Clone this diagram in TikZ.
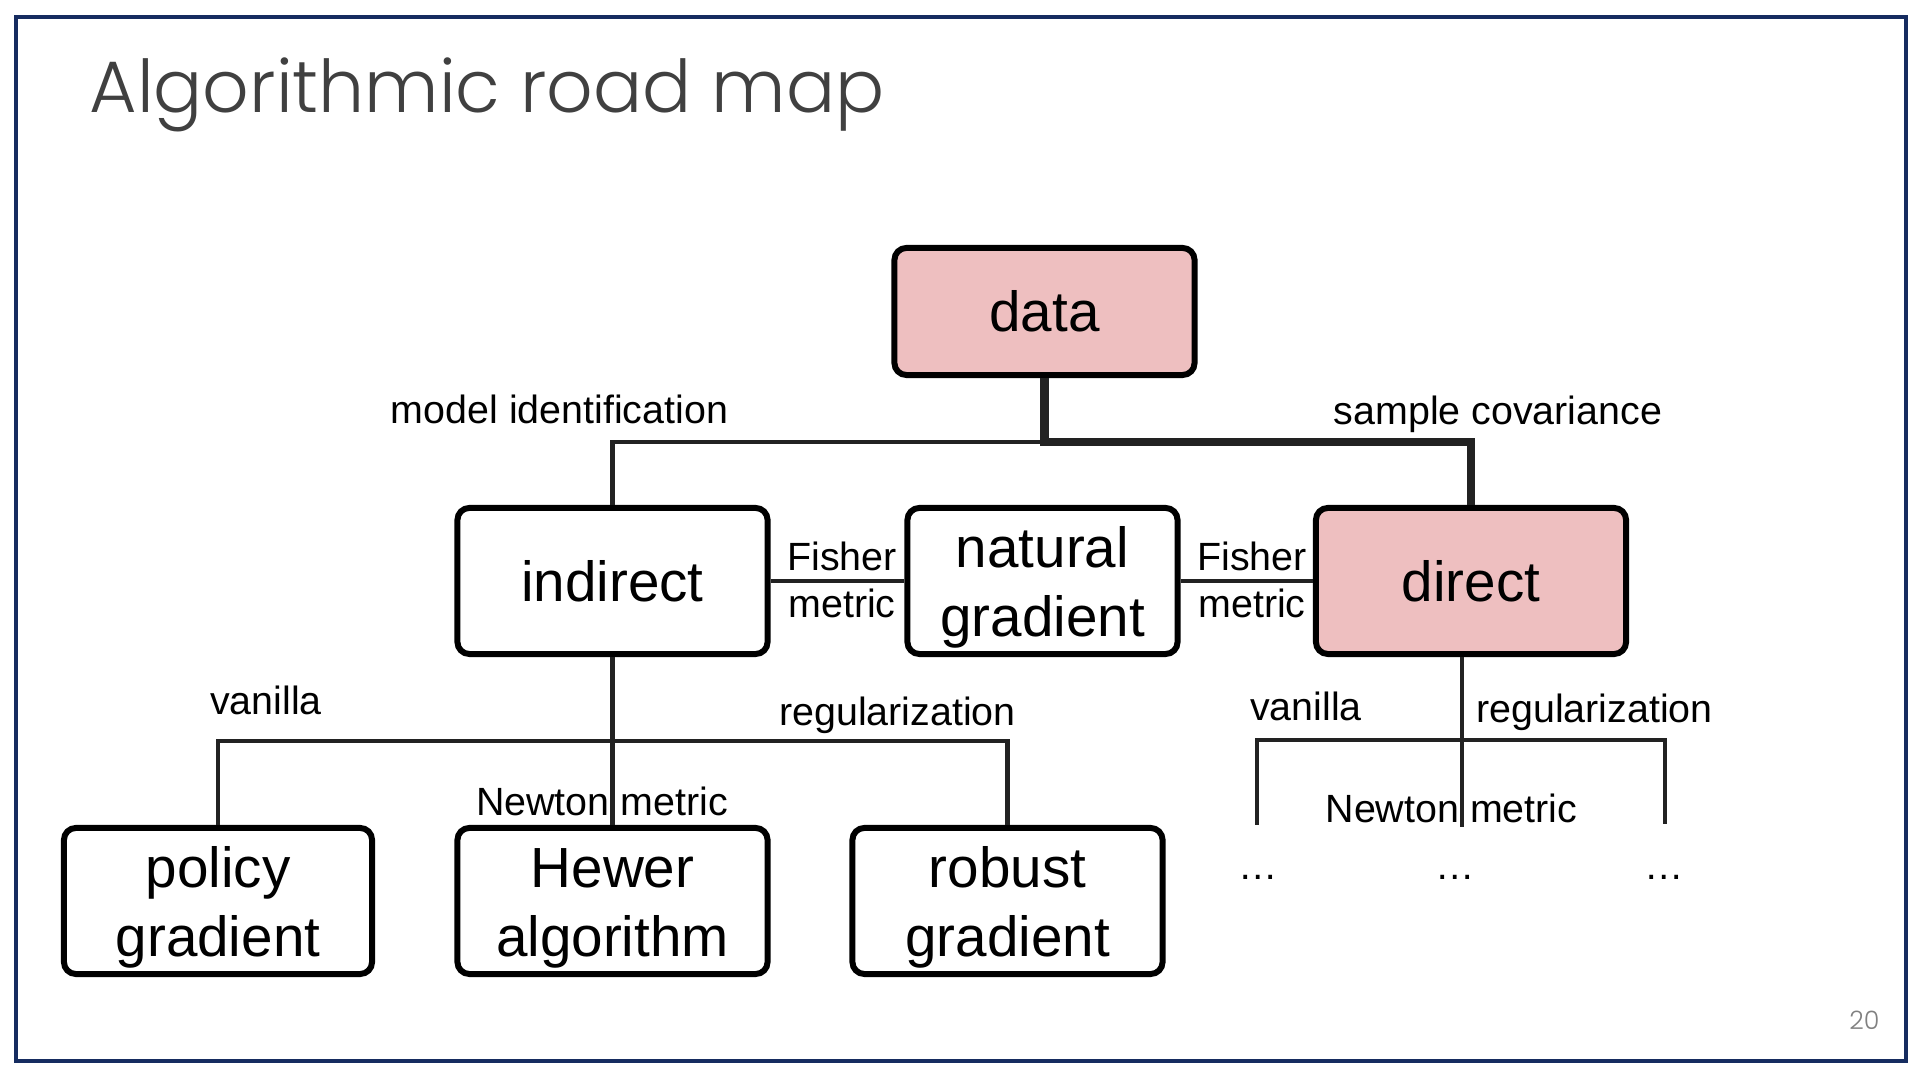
\documentclass[tikz,border=0pt]{standalone}
\usepackage{fontspec}
\setmainfont{Liberation Sans}
\newfontfamily\titlefont{Poppins Light}
\definecolor{pinkfill}{RGB}{238,191,192}
\definecolor{framecol}{RGB}{22,44,96}
\definecolor{titlegray}{RGB}{64,64,64}
\definecolor{linecol}{RGB}{34,34,34}
\newcommand\boxlines[2]{\rule{0pt}{15.2pt}#1\\#2}
\begin{document}
\begin{tikzpicture}[x=0.01cm,y=-0.01cm,
  box/.style={draw=black, line width=1.7pt, rounded corners=0.12cm, fill=white,
    align=center, inner sep=0pt, minimum height=1.46cm,
    font=\fontsize{16.1}{19.8}\selectfont},
  hl/.style={fill=pinkfill},
  lbl/.style={font=\fontsize{11.2}{13.3}\selectfont, inner sep=0pt, align=center},
  conn/.style={draw=linecol, line width=1.15pt},
  boldconn/.style={draw=linecol, line width=2.5pt},
]
\useasboundingbox (0,0) rectangle (1920,1080);
\fill[white] (0,0) rectangle (1920,1080);
\draw[framecol, line width=0.9pt] (16,17) rectangle (1906,1061);

\node[anchor=base west, inner sep=0pt, text=titlegray,
  font=\titlefont\fontsize{20.7}{24}\selectfont] (title) at (89,113) {Algorithmic road map};
\node[inner sep=0pt, text=gray, font=\titlefont\fontsize{7.2}{8}\selectfont] (pg) at (1864.5,1020.5) {20};

% boxes
\node[box, hl, minimum width=3.00cm, minimum height=1.27cm] (data) at (1044.5,311.5) {data};
\node[box, minimum width=3.10cm] (indirect) at (612.5,581) {indirect};
\node[box, minimum width=2.70cm] (natural) at (1042.5,581) {\boxlines{natural}{gradient}};
\node[box, hl, minimum width=3.10cm] (direct) at (1471,581) {direct};
\node[box, minimum width=3.08cm] (policy) at (218,901) {\boxlines{policy}{gradient}};
\node[box, minimum width=3.10cm] (hewer) at (612.5,901) {\boxlines{Hewer}{algorithm}};
\node[box, minimum width=3.10cm] (robust) at (1007.5,901) {\boxlines{robust}{gradient}};

% top connectors
\coordinate (j1) at (1044.5,442);
\draw[conn] (j1) -| (indirect.north);
\draw[boldconn] (data.south) -- (j1) -| (direct.north);

% Fisher metric
\draw[conn] (indirect) -- (natural);
\draw[conn] (natural) -- (direct);

% left subtree
\coordinate (j2) at (612.5,741);
\draw[conn] (indirect.south) -- (hewer.north);
\draw[conn] (policy.north) -- (policy.north |- j2) -- (robust.north |- j2) -- (robust.north);

% right subtree
\coordinate (j3) at (1462,740);
\coordinate (r1) at (1257,825);
\coordinate (r2) at (1462,827);
\coordinate (r3) at (1665,824);
\draw[conn] (direct.south -| j3) -- (r2);
\draw[conn] (r1) -- (r1 |- j3) -- (r3 |- j3) -- (r3);

% labels
\node[lbl, anchor=base] (lmi) at (559.5,424) {model identification};
\node[lbl, anchor=base] (lsc) at (1498,425) {sample covariance};
\node[lbl] (lf1) at (842,580) {Fisher\\metric};
\node[lbl] (lf2) at (1252,580) {Fisher\\metric};
\node[lbl, anchor=base] (lv1) at (266,715) {vanilla};
\node[lbl, anchor=base] (lr1) at (897.5,726) {regularization};
\node[lbl, anchor=base] (ln1) at (602,816) {Newton metric};
\node[lbl, anchor=base] (lv2) at (1306,721) {vanilla};
\node[lbl, anchor=base] (lr2) at (1594.5,723) {regularization};
\node[lbl, anchor=base] (ln2) at (1451.5,823) {Newton metric};
\node[lbl, anchor=base] (d1) at (1258,880) {…};
\node[lbl, anchor=base] (d2) at (1455,880) {…};
\node[lbl, anchor=base] (d3) at (1664,880) {…};
\end{tikzpicture}
\end{document}
